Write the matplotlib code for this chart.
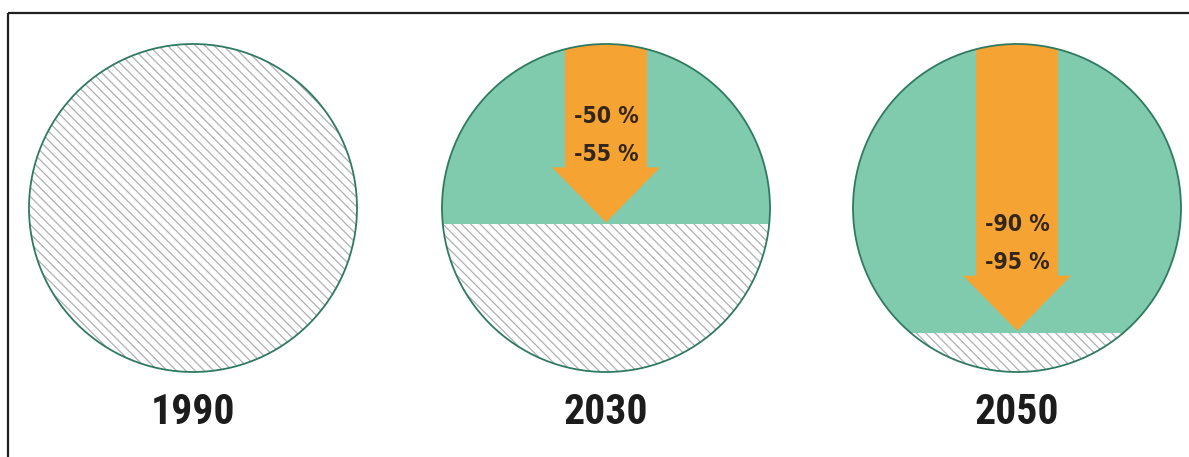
import matplotlib
matplotlib.use('Agg')
import matplotlib.pyplot as plt
import numpy as np
from matplotlib.patches import Circle, Polygon, Rectangle
from matplotlib.collections import LineCollection

# Emissions relative to 1990
years = ['1990', '2030', '2050']
cut_low = [None, 50, 90]
cut_high = [None, 55, 95]
green_share = [0.0, 0.55, 0.88]  # filled part of the circle height, from the top

GREEN = '#80cbae'
ORANGE = '#f5a332'
EDGE = '#2f7a60'
HATCH = '#b0b0b0'
TEXT = '#1c1c1c'

W, H = 1189, 457
fig = plt.figure(figsize=(W / 100, H / 100), dpi=100)
ax = fig.add_axes([0, 0, 1, 1])
ax.set_xlim(0, W)
ax.set_ylim(H, 0)
ax.axis('off')

# pixel layout
centers = [193, 606, 1017]
cy, r = 208, 164
hatch_step = 9.3
shaft_hw, head_hw, head_len = 41, 54, 55

for cx, year, lo, hi, share in zip(centers, years, cut_low, cut_high, green_share):
    clip = Circle((cx, cy), r, transform=ax.transData)

    # diagonal hatching over the whole disc
    offs = np.arange(-2 * r, 2 * r, hatch_step)
    segs = [[(cx - r + o, cy - r), (cx + r + o, cy + r)] for o in offs]
    lc = LineCollection(segs, colors=HATCH, linewidths=0.9, zorder=1)
    ax.add_collection(lc)
    lc.set_clip_path(clip)

    cut_y = cy - r + share * 2 * r
    if share > 0:
        cap = Rectangle((cx - r, cy - r), 2 * r, cut_y - (cy - r),
                        facecolor=GREEN, edgecolor='none', zorder=2)
        ax.add_patch(cap)
        cap.set_clip_path(clip)

        tip = cut_y - 2
        head_y = tip - head_len
        top = cy - r - 5
        arrow = Polygon([(cx - shaft_hw, top), (cx + shaft_hw, top),
                         (cx + shaft_hw, head_y), (cx + head_hw, head_y),
                         (cx, tip), (cx - head_hw, head_y),
                         (cx - shaft_hw, head_y)],
                        closed=True, facecolor=ORANGE, edgecolor='none', zorder=3)
        ax.add_patch(arrow)
        arrow.set_clip_path(clip)

        for val, dy in ((lo, 106), (hi, 68)):
            ax.text(cx, tip - dy, f'-{val} %', ha='center', va='center',
                    fontsize=16.5, fontweight='bold', color='#33261a',
                    family=['DejaVu Sans'], fontstretch='condensed', zorder=4)

    ax.add_patch(Circle((cx, cy), r, facecolor='none', edgecolor=EDGE,
                        linewidth=1.3, zorder=5))

    ax.text(cx, 413, year, ha='center', va='center', fontsize=30,
            fontweight='bold', color=TEXT,
            family=['Roboto Condensed', 'Liberation Sans Narrow', 'DejaVu Sans'])

# frame lines along the top and left
ax.plot([8, W], [13, 13], color='#202020', lw=1.6, solid_capstyle='butt')
ax.plot([8, 8], [13, H], color='#202020', lw=1.6, solid_capstyle='butt')

fig.savefig('out.png', dpi=100)
